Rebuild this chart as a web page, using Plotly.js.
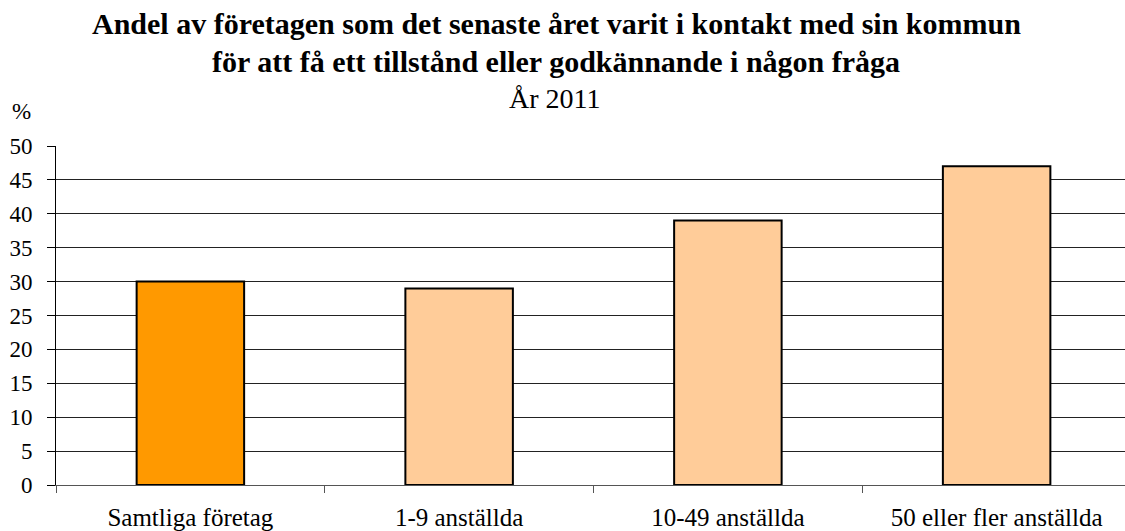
<!DOCTYPE html>
<html><head><meta charset="utf-8">
<script src="https://cdn.plot.ly/plotly-3.0.1.min.js"></script>
<style>html,body{margin:0;padding:0;overflow:hidden;width:1125px;height:531px;background:#fff}</style>
</head><body><div id="chart"></div>
<script>
const categories = ["Samtliga företag", "1-9 anställda", "10-49 anställda", "50 eller fler anställda"];
const values = [30, 29, 39, 47];
const barColors = ["#FF9900", "#FFCC99", "#FFCC99", "#FFCC99"];
const yTicks = [0, 5, 10, 15, 20, 25, 30, 35, 40, 45, 50];
const titleLine1 = "Andel av företagen som det senaste året varit i kontakt med sin kommun";
const titleLine2 = "för att få ett tillstånd eller godkännande i någon fråga";
const subtitle = "År 2011";
const yUnit = "%";

const W = 1140, H = 531, L = 56, R = 9, T = 146, B = 46;
const serif = "Liberation Serif";
function px(xPix){ return (xPix - L) / (W - L - R); }
function py(yPix){ return 1 + (T - yPix) / (H - T - B); }

const trace = {
  type: "bar", x: categories, y: values, width: 0.4,
  marker: {color: barColors, line: {color: "#000", width: 2}},
  hoverinfo: "none"
};
const layout = {
  width: W, height: H,
  margin: {l: L, r: R, t: T, b: B, pad: 0},
  paper_bgcolor: "#fff", plot_bgcolor: "#fff",
  showlegend: false,
  font: {family: serif, color: "#000", size: 22},
  xaxis: {
    type: "category", tickson: "boundaries", ticks: "outside", ticklen: 7,
    tickcolor: "#555", tickwidth: 1, showline: true, linecolor: "#555", linewidth: 1,
    showgrid: false, tickfont: {family: serif, size: 25, color: "#000"}, ticklabelstandoff: 10
  },
  yaxis: {
    range: [0, 50], tickvals: yTicks, ticktext: yTicks.map(String),
    ticks: "outside", ticklen: 8, tickcolor: "#000", tickwidth: 1,
    showline: true, linecolor: "#000", linewidth: 1,
    showgrid: true, gridcolor: "#222", gridwidth: 1, zeroline: false,
    tickfont: {family: serif, size: 23, color: "#000"}, ticklabelstandoff: 10
  },
  annotations: [
    {text: "<b>" + titleLine1 + "</b>", xref: "paper", yref: "paper", x: px(556), y: py(23), xanchor: "center", yanchor: "middle", showarrow: false, font: {family: serif, size: 30, color: "#000"}},
    {text: "<b>" + titleLine2 + "</b>", xref: "paper", yref: "paper", x: px(556), y: py(61), xanchor: "center", yanchor: "middle", showarrow: false, font: {family: serif, size: 30, color: "#000"}},
    {text: subtitle, xref: "paper", yref: "paper", x: px(555), y: py(99), xanchor: "center", yanchor: "middle", showarrow: false, font: {family: serif, size: 28, color: "#000"}},
    {text: yUnit, xref: "paper", yref: "paper", x: px(10), y: py(112), xanchor: "left", yanchor: "middle", showarrow: false, font: {family: serif, size: 23, color: "#000"}}
  ]
};
Plotly.newPlot("chart", [trace], layout, {staticPlot: true, displayModeBar: false});
</script></body></html>
